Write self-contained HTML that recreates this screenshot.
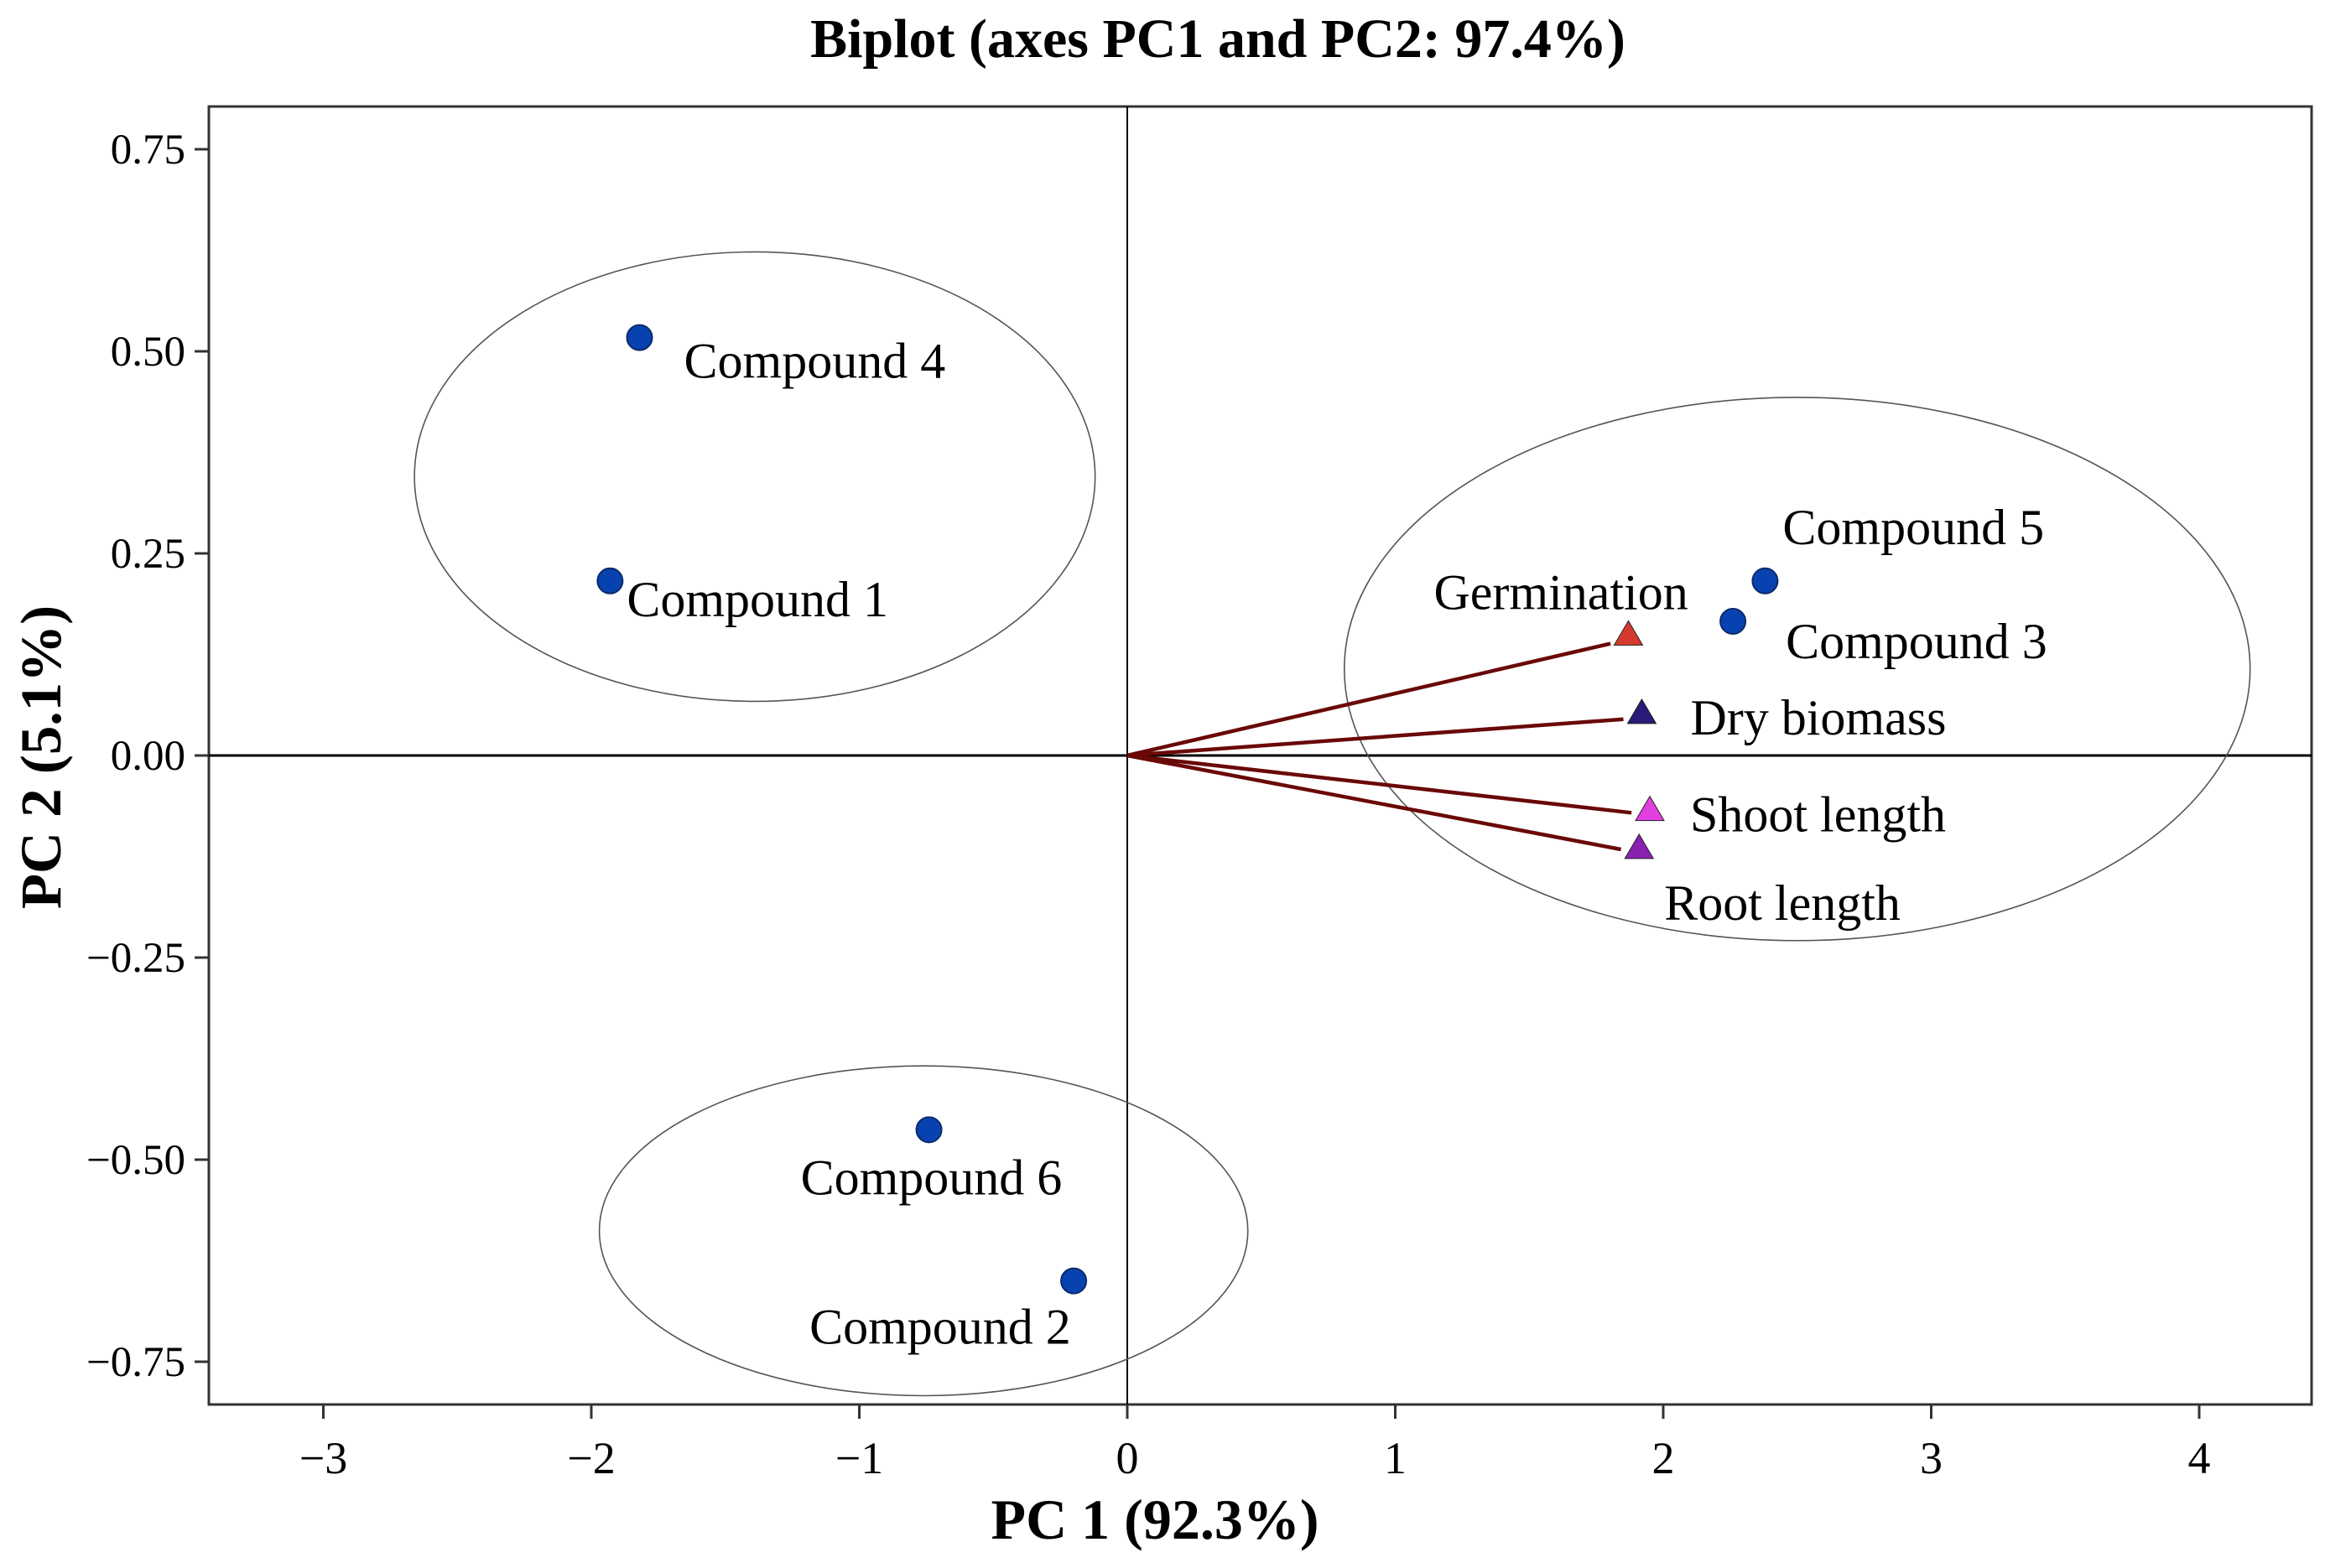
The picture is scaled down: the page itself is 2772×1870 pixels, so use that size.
<!DOCTYPE html>
<html><head><meta charset="utf-8"><style>
html,body{margin:0;padding:0;background:#fff;}
svg{display:block;}
text{font-family:"Liberation Serif","Times New Roman",serif;fill:#000;}
</style></head><body>
<svg id="chart" width="2772" height="1870" viewBox="0 0 2772 1870" xmlns="http://www.w3.org/2000/svg">
<text x="1452" y="68" font-size="66" font-weight="bold" text-anchor="middle">Biplot (axes PC1 and PC2: 97.4%)</text>
<text x="1377" y="1835" font-size="68" font-weight="bold" text-anchor="middle">PC 1 (92.3%)</text>
<text x="0" y="0" font-size="69" font-weight="bold" text-anchor="middle" transform="translate(72,903) rotate(-90)">PC 2 (5.1%)</text>
<rect x="249" y="127" width="2507" height="1548" fill="none" stroke="#333" stroke-width="3"/>
<g id="grid"></g><g id="ell"></g><g id="vec"></g><g id="pts"></g><g id="ticks"></g>
</svg>
<script>
const xTicks = [-3,-2,-1,0,1,2,3,4];
const xTickLabels = ["\u22123","\u22122","\u22121","0","1","2","3","4"];
const yTicks = [0.75,0.5,0.25,0,-0.25,-0.5,-0.75];
const yTickLabels = ["0.75","0.50","0.25","0.00","\u22120.25","\u22120.50","\u22120.75"];
const obsNames = ["Compound 4","Compound 1","Compound 5","Compound 3","Compound 6","Compound 2"];
const obsPC1 = [-1.82,-1.93,2.38,2.26,-0.74,-0.20];
const obsPC2 = [0.517,0.216,0.216,0.166,-0.463,-0.650];
const varNames = ["Germination","Dry biomass","Shoot length","Root length"];
const varPC1 = [1.87,1.92,1.95,1.91];
const varPC2 = [0.15,0.053,-0.067,-0.114];
const ellCX = [-1.39,2.50,-0.76];
const ellCY = [0.345,0.107,-0.588];
const ellRX = [1.27,1.69,1.21];
const ellRY = [0.278,0.336,0.204];

const NS="http://www.w3.org/2000/svg";
const X0=1344, XS=319.5, Y0=901, YS=964;
const L=249,R=2756,T=127,B=1675;
function sx(v){return X0+v*XS;}
function sy(v){return Y0-v*YS;}
function mk(tag,attrs,parent){const e=document.createElementNS(NS,tag);for(const k in attrs)e.setAttribute(k,attrs[k]);document.getElementById(parent).appendChild(e);return e;}

let e;
e=mk('line',{x1:sx(0),x2:sx(0),y1:T,y2:B,stroke:'#000','stroke-width':2},'grid');


e=mk('line',{x1:L,x2:R,y1:sy(0),y2:sy(0),stroke:'#000','stroke-width':3},'grid');



xTicks.forEach((t,i)=>{
  e=mk('line',{x1:sx(t),x2:sx(t),y1:B,y2:B+17,stroke:'#333','stroke-width':3},'ticks');
  
  
  e=mk('text',{x:sx(t),y:1757,'font-size':54,'text-anchor':'middle'},'ticks');
  e.textContent=xTickLabels[i];
  
  
});
yTicks.forEach((t,i)=>{
  e=mk('line',{x1:L-17,x2:L,y1:sy(t),y2:sy(t),stroke:'#333','stroke-width':3},'ticks');
  
  
  e=mk('text',{x:221,y:sy(t)+17,'font-size':51,'text-anchor':'end'},'ticks');
  e.textContent=yTickLabels[i];
  
  
});
ellCX.forEach((c,i)=>{
  e=mk('ellipse',{cx:sx(c),cy:sy(ellCY[i]),rx:ellRX[i]*XS,ry:ellRY[i]*YS,fill:'none',stroke:'#555','stroke-width':1.6},'ell');
  
  
});
const varColors=['#d63a2e','#2b1a78','#e23fe0','#8a20b0'];
const varLab=[[-232,-50],[58,6],[48,6],[30,66]];
varNames.forEach((n,i)=>{
  const px=sx(varPC1[i]),py=sy(varPC2[i]);
  const dx=px-X0,dy=py-Y0,len=Math.hypot(dx,dy),k=(len-22)/len;
  e=mk('line',{x1:X0,y1:Y0,x2:X0+dx*k,y2:Y0+dy*k+6,stroke:'#6a0808','stroke-width':4.5},'vec');
  
  
  e=mk('polygon',{points:`${px},${py-16} ${px-17},${py+13} ${px+17},${py+13}`,fill:varColors[i],stroke:'#222','stroke-width':1},'pts');
  
  
  e=mk('text',{x:px+varLab[i][0],y:py+varLab[i][1]+20,'font-size':60},'pts');
  e.textContent=n;
  
  
});
const obsLab=[[53,48],[20,42],[21,-44],[63,44],[-153,77],[-315,75]];
obsNames.forEach((n,i)=>{
  const px=sx(obsPC1[i]),py=sy(obsPC2[i]);
  e=mk('circle',{cx:px,cy:py,r:15,fill:'#0842b0',stroke:'#0a2a6a','stroke-width':2},'pts');
  
  
  e=mk('text',{x:px+obsLab[i][0],y:py+obsLab[i][1],'font-size':60},'pts');
  e.textContent=n;
  
  
});
</script>
</body></html>
